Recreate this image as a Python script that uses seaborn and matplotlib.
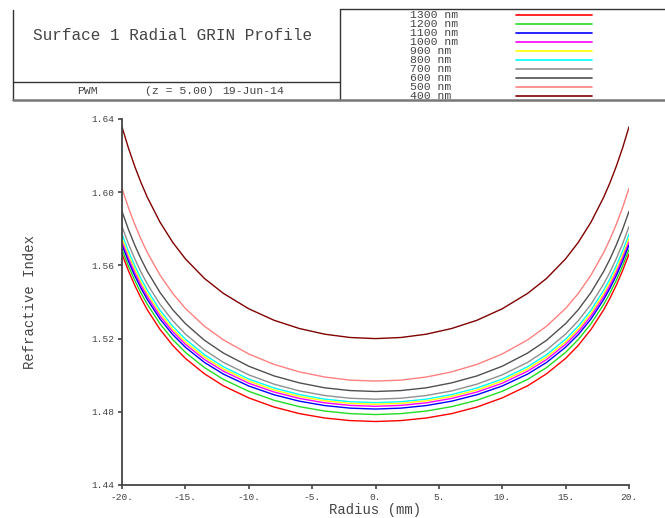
import numpy as np
import pandas as pd
import matplotlib
matplotlib.use("Agg")
import matplotlib.pyplot as plt
from matplotlib.lines import Line2D
from matplotlib.ticker import FixedLocator, FixedFormatter
import seaborn as sns

# ---------------- data ----------------
# radii (mm) for one half of the symmetric profile, 0 .. 20
radius_half = [0, 2, 4, 6, 8, 10, 12, 13.5, 15, 16, 17, 18, 18.5, 19, 19.5, 20]

wavelengths = ["1300 nm", "1200 nm", "1100 nm", "1000 nm", "900 nm",
               "800 nm", "700 nm", "600 nm", "500 nm", "400 nm"]
colors = ["#ff0000", "#22dd22", "#0000ff", "#ff00ff", "#ffff00",
          "#00ffff", "#909090", "#505050", "#ff8080", "#800000"]

n_1300 = [1.4747, 1.4752, 1.4766, 1.4790, 1.4826, 1.4876, 1.4942, 1.5008, 1.5092, 1.5163, 1.5250, 1.5357, 1.5421, 1.5492, 1.5572, 1.5662]
n_1200 = [1.4785, 1.4790, 1.4804, 1.4828, 1.4863, 1.4912, 1.4977, 1.5042, 1.5125, 1.5195, 1.5281, 1.5387, 1.5449, 1.5519, 1.5598, 1.5687]
n_1100 = [1.4815, 1.4820, 1.4834, 1.4858, 1.4893, 1.4941, 1.5006, 1.5070, 1.5153, 1.5222, 1.5307, 1.5413, 1.5475, 1.5544, 1.5623, 1.5711]
n_1000 = [1.4830, 1.4835, 1.4849, 1.4873, 1.4908, 1.4956, 1.5022, 1.5086, 1.5169, 1.5238, 1.5323, 1.5429, 1.5491, 1.5561, 1.5640, 1.5728]
n_900 = [1.4841, 1.4846, 1.4860, 1.4884, 1.4919, 1.4968, 1.5034, 1.5099, 1.5182, 1.5252, 1.5338, 1.5445, 1.5507, 1.5578, 1.5657, 1.5746]
n_800 = [1.4850, 1.4855, 1.4869, 1.4894, 1.4930, 1.4979, 1.5046, 1.5112, 1.5197, 1.5268, 1.5355, 1.5464, 1.5527, 1.5599, 1.5679, 1.5770]
n_700 = [1.4869, 1.4874, 1.4889, 1.4914, 1.4951, 1.5002, 1.5070, 1.5138, 1.5225, 1.5298, 1.5387, 1.5498, 1.5563, 1.5637, 1.5719, 1.5812]
n_600 = [1.4911, 1.4916, 1.4931, 1.4958, 1.4996, 1.5049, 1.5121, 1.5191, 1.5282, 1.5358, 1.5452, 1.5567, 1.5635, 1.5712, 1.5798, 1.5895]
n_500 = [1.4968, 1.4973, 1.4990, 1.5018, 1.5059, 1.5116, 1.5193, 1.5268, 1.5365, 1.5447, 1.5547, 1.5670, 1.5743, 1.5825, 1.5917, 1.6021]
n_400 = [1.5200, 1.5206, 1.5224, 1.5255, 1.5300, 1.5363, 1.5447, 1.5529, 1.5636, 1.5726, 1.5836, 1.5972, 1.6052, 1.6142, 1.6243, 1.6357]

series = [n_1300, n_1200, n_1100, n_1000, n_900, n_800, n_700, n_600, n_500, n_400]

xticks = [-20, -15, -10, -5, 0, 5, 10, 15, 20]
xtick_labels = ["-20.", "-15.", "-10.", "-5.", "0.", "5.", "10.", "15.", "20."]
yticks = [1.44, 1.48, 1.52, 1.56, 1.60, 1.64]
ytick_labels = ["1.44", "1.48", "1.52", "1.56", "1.60", "1.64"]

title = "Surface 1 Radial GRIN Profile"
sub_left, sub_mid, sub_right = "PWM", "(z = 5.00)", "19-Jun-14"

# ---------------- build long table (mirror the symmetric half) ----------------
rh = np.array(radius_half, dtype=float)
rows = []
for wl, vals in zip(wavelengths, series):
    v = np.array(vals)
    r_full = np.concatenate([-rh[:0:-1], rh])
    v_full = np.concatenate([v[:0:-1], v])
    for r, n in zip(r_full, v_full):
        rows.append({"Radius": r, "Index": n, "Wavelength": wl})
df = pd.DataFrame(rows)

# ---------------- figure ----------------
sns.set_theme(style="white")
plt.rcParams["font.family"] = ["Liberation Mono", "DejaVu Sans Mono"]
TXT = "#444444"

W, H = 665, 518
fig = plt.figure(figsize=(W / 100, H / 100), dpi=100)
ax = fig.add_axes([122 / W, 1 - 485 / H, 507 / W, 366 / H])

palette = dict(zip(wavelengths, colors))
sns.lineplot(data=df, x="Radius", y="Index", hue="Wavelength",
             hue_order=wavelengths[::-1], palette=palette,
             legend=False, lw=1.0, ax=ax, sort=True, estimator=None)

ax.set_xlim(-20, 20)
ax.set_ylim(1.44, 1.64)
ax.xaxis.set_major_locator(FixedLocator(xticks))
ax.xaxis.set_major_formatter(FixedFormatter(xtick_labels))
ax.yaxis.set_major_locator(FixedLocator(yticks))
ax.yaxis.set_major_formatter(FixedFormatter(ytick_labels))
for s in ["top", "right"]:
    ax.spines[s].set_visible(False)
for s in ["left", "bottom"]:
    ax.spines[s].set_color("#444444")
    ax.spines[s].set_linewidth(1.3)
ax.tick_params(axis="both", which="major", direction="out", length=3,
               width=1.2, color="#444444", labelsize=6.8, labelcolor=TXT,
               bottom=True, left=True, pad=2.5)
ax.grid(False)

ax.set_xlabel("Radius (mm)", fontsize=10, color=TXT)
ax.set_ylabel("Refractive Index", fontsize=10, color=TXT)
ax.xaxis.set_label_coords(0.5, -0.068)
ax.xaxis.label.set_verticalalignment("center")
ax.yaxis.set_label_coords(-0.181, 0.5)
ax.yaxis.label.set_verticalalignment("center")

# ---------------- header frame ----------------
def fx(x):
    return x / W

def fy(y):
    return 1 - y / H

def hline(x0, x1, y, lw=1.0, c="#333333"):
    fig.add_artist(Line2D([fx(x0), fx(x1)], [fy(y), fy(y)], transform=fig.transFigure, lw=lw, color=c))

def vline(x, y0, y1, lw=1.0, c="#333333"):
    fig.add_artist(Line2D([fx(x), fx(x)], [fy(y0), fy(y1)], transform=fig.transFigure, lw=lw, color=c))

vline(13, 9.5, 100)
vline(339.5, 9, 100)
hline(339.5, 665, 9)
hline(13, 339.5, 82)
hline(13, 665, 100, lw=1.8, c="#777777")

fig.text(fx(173), fy(35), title, ha="center", va="center", fontsize=11.5, color=TXT)
fig.text(fx(77), fy(91), sub_left, ha="left", va="center", fontsize=8.2, color=TXT)
fig.text(fx(145), fy(91), sub_mid, ha="left", va="center", fontsize=8.2, color=TXT)
fig.text(fx(222), fy(91), sub_right, ha="left", va="center", fontsize=8.2, color=TXT)

# legend inside the header box
for i, (wl, c) in enumerate(zip(wavelengths, colors)):
    y = 14.7 + i * 9.0
    fig.text(fx(410), fy(y), wl, ha="left", va="center", fontsize=8.2, color=TXT)
    hline(516, 592, y, lw=1.2, c=c)

fig.savefig("out.png", dpi=100)
